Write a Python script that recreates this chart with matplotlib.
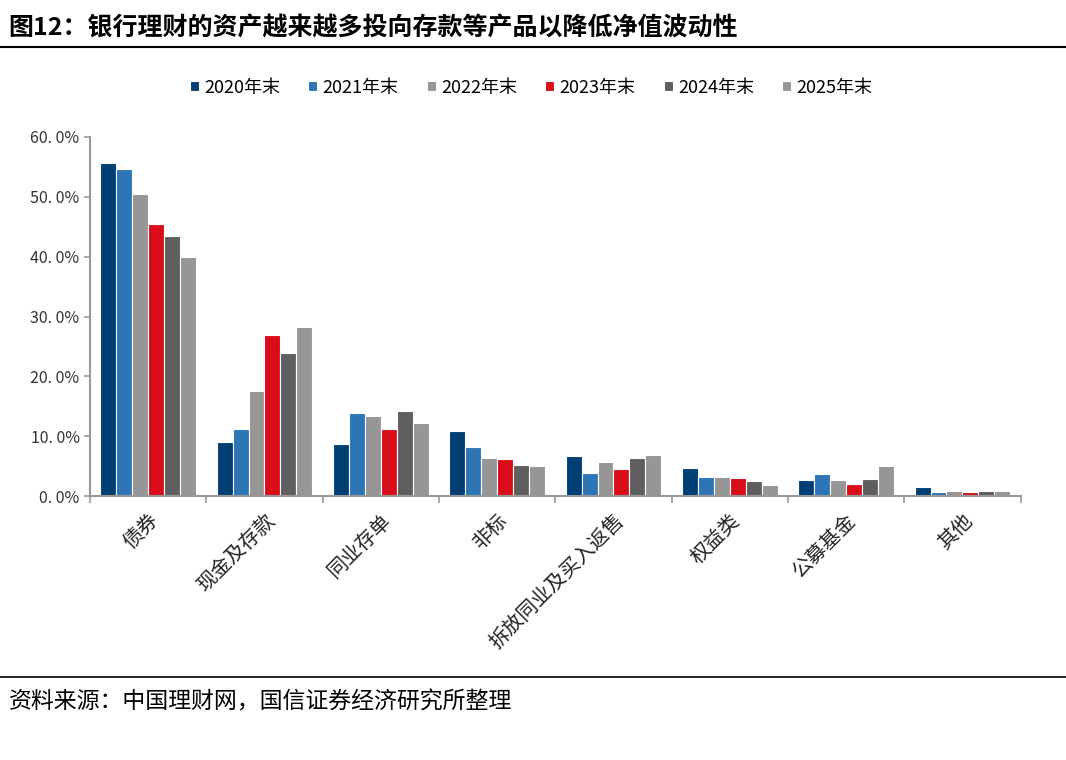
import matplotlib
matplotlib.use("Agg")
import matplotlib.pyplot as plt
from matplotlib.ticker import FixedLocator, FuncFormatter
import numpy as np

plt.rcParams['font.family'] = ['Noto Sans CJK SC', 'DejaVu Sans']

categories = ["债券", "现金及存款", "同业存单", "非标", "拆放同业及买入返售", "权益类", "公募基金", "其他"]
series_names = ["2020年末", "2021年末", "2022年末", "2023年末", "2024年末", "2025年末"]
v2020 = [55.6, 9.0, 8.8, 10.9, 6.7, 4.8, 2.7, 1.5]
v2021 = [54.7, 11.3, 13.9, 8.3, 3.9, 3.2, 3.8, 0.7]
v2022 = [50.5, 17.6, 13.4, 6.4, 5.7, 3.2, 2.7, 0.9]
v2023 = [45.4, 26.9, 11.3, 6.2, 4.6, 3.0, 2.1, 0.7]
v2024 = [43.5, 23.9, 14.3, 5.3, 6.4, 2.5, 2.9, 0.9]
v2025 = [39.9, 28.3, 12.2, 5.0, 6.9, 1.8, 5.0, 0.9]
series = [v2020, v2021, v2022, v2023, v2024, v2025]
colors = ["#003F74", "#2E75B6", "#969696", "#D90C1A", "#5F5F5F", "#969696"]
yticks = [0, 10, 20, 30, 40, 50, 60]

fig = plt.figure(figsize=(10.66, 7.6), dpi=100)
ax = fig.add_axes([0.0844, 0.347, 0.873, 0.473])

x = np.arange(len(categories))
n = len(series)
bw = 0.137
for i, (vals, c, name) in enumerate(zip(series, colors, series_names)):
    offs = (i - (n - 1) / 2) * bw
    ax.bar(x + offs, vals, width=bw, color=c, edgecolor="white", linewidth=0.8, label=name, zorder=2)

ax.set_xlim(-0.5, len(categories) - 0.5)
ax.set_ylim(0, 60)
ax.yaxis.set_major_locator(FixedLocator(yticks))
ax.yaxis.set_major_formatter(FuncFormatter(lambda v, p: f"{v:.0f}. 0%"))
ax.set_xticks(x)
ax.set_xticklabels(categories, rotation=45, ha='right', va='top', rotation_mode='anchor',
                   fontsize=14.5, color='#222222')
ax.tick_params(axis='x', length=0, pad=10)
ax.set_xticks(np.arange(len(categories) + 1) - 0.5, minor=True)
ax.tick_params(axis='x', which='minor', length=5, color='#999999', width=1.2)
ax.tick_params(axis='y', length=4, color='#999999', width=1.2, labelsize=11.5, labelcolor='#333333')

for s in ['top', 'right']:
    ax.spines[s].set_visible(False)
for s in ['left', 'bottom']:
    ax.spines[s].set_color('#999999')
    ax.spines[s].set_linewidth(1.5)

leg = ax.legend(loc='center', bbox_to_anchor=(0.474, 1.137), ncol=6, frameon=False,
                fontsize=13, handlelength=0.5, handleheight=0.5, handletextpad=0.3, columnspacing=1.55)

fig.text(0.008, 0.963, "图12：银行理财的资产越来越多投向存款等产品以降低净值波动性",
         fontsize=18, fontweight='bold', ha='left', va='center')
fig.add_artist(plt.Line2D([0, 1], [0.938, 0.938], color='black', linewidth=1.5, transform=fig.transFigure))
fig.add_artist(plt.Line2D([0, 1], [0.109, 0.109], color='black', linewidth=1.2, transform=fig.transFigure))
fig.text(0.008, 0.076, "资料来源：中国理财网，国信证券经济研究所整理", fontsize=16.5, ha='left', va='center')

fig.savefig("out.png", dpi=100)
